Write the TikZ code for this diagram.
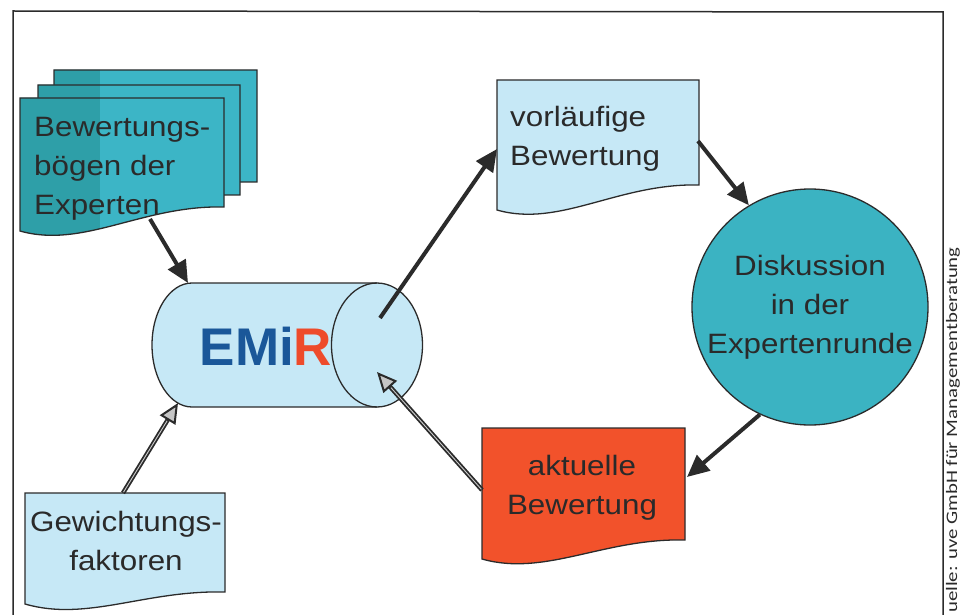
\documentclass[tikz,border=0pt]{standalone}
\usepackage{fontspec}
\usetikzlibrary{arrows.meta}
\newfontfamily\labfont[FakeStretch=1.12]{Liberation Sans}
\newfontfamily\emirfont{Liberation Sans}
\newfontfamily\srcfont[FakeStretch=1.3]{Carlito}
\definecolor{lblue}{HTML}{C6E8F6}
\definecolor{tealL}{HTML}{3CB5C6}
\definecolor{tealD}{HTML}{2E9FA8}
\definecolor{tealC}{HTML}{3BB3C2}
\definecolor{redor}{HTML}{F2522B}
\definecolor{linec}{HTML}{2B2B2B}
\definecolor{txtc}{HTML}{2A2A2A}
\definecolor{emblue}{HTML}{1A5799}
\definecolor{emred}{HTML}{EE4B2B}
\tikzset{
  docp/.style n args={5}{insert path={(#1,#2) -- (#3,#2) -- (#3,#5)
     .. controls ({#3-0.4*(#3-#1)},{#5-2}) and ({#1+0.31*(#3-#1)},{#4+18}) .. (#1,#4) -- cycle}},
  outline/.style={draw=linec, line width=1.3pt},
  lab/.style={font=\labfont\fontsize{28}{39}\selectfont, text=txtc, inner sep=0pt},
  solidarrow/.style={draw=linec, line width=4pt, -{Triangle[length=22pt,width=20pt]}},
  hollowarrow/.style={draw=linec, line width=4.5pt, -{Triangle[length=20pt,width=18pt,fill=gray!45,line width=2pt]}},
  hollowcore/.style={draw=gray!40, line width=0.9pt, shorten >=21pt, shorten <=1pt},
}
\begin{document}
\begin{tikzpicture}[x=1pt,y=-1pt]
\useasboundingbox (0,0) rectangle (961,615);
% frame
\draw[linec, line width=1.5pt] (13,620) -- (13,11) -- (943,12) -- (943,620);
% stacked documents
\foreach \a/\b/\c/\d/\e in {54/70/257/196/182, 38/85/240/209/195, 20/98/224/231/207} {
  \begin{scope}
    \path[clip, docp={\a}{\b}{\c}{\d}{\e}];
    \fill[tealL] (0,0) rectangle (300,260);
    \fill[tealD] (0,0) rectangle (100,260);
  \end{scope}
  \path[outline, docp={\a}{\b}{\c}{\d}{\e}];
}
\node[lab, anchor=north west, align=left] (stack) at (34,117) {Bewertungs-\\bögen der\\Experten};
% EMiR cylinder
\path[fill=lblue] (192,283) -- (377,283) -- (377,407) -- (192,407)
   arc[start angle=90, end angle=270, x radius=40, y radius=62];
\fill[lblue] (377,345) ellipse [x radius=45.5, y radius=62];
\draw[linec, line width=1.3pt] (377,283) -- (192,283)
   arc[start angle=270, end angle=90, x radius=40, y radius=62] -- (377,407);
\draw[linec, line width=1.3pt] (377,345) ellipse [x radius=45.5, y radius=62];
\node[inner sep=0pt, font=\emirfont\bfseries\fontsize{53}{53}\selectfont] (emir) at (266,346)
   {\textcolor{emblue}{EMi}\textcolor{emred}{R}};
% vorlaeufige Bewertung
\path[outline, fill=lblue, docp={497}{80}{699}{210}{185}];
\node[lab, anchor=north west, align=left] (vorl) at (510,106) {vorläufige\\Bewertung};
% Diskussion circle
\node[circle, outline, fill=tealC, minimum size=236pt, inner sep=0pt, lab, align=center] (disk) at (810,307)
   {Diskussion\\in der\\Expertenrunde};
% aktuelle Bewertung
\path[outline, fill=redor, docp={482}{428}{685}{559}{540}];
\node[lab, anchor=north, align=center] (akt) at (582,455) {aktuelle\\Bewertung};
% Gewichtungsfaktoren
\path[outline, fill=lblue, docp={25}{493}{225}{604}{592}];
\node[lab, anchor=north, align=center] (gew) at (126,511) {Gewichtungs-\\faktoren};
% source
\node[rotate=90, anchor=west, inner sep=0pt, text=txtc, font=\srcfont\fontsize{16}{16}\selectfont] (quelle) at (953,613)
   {uelle: uve GmbH für Managementberatung};
% connector end points
\coordinate (stackB) at (150,219);
\coordinate (cylTop) at (188,283);
\coordinate (gewT) at (123,493);
\coordinate (cylBot) at (178,403);
\coordinate (cylR1) at (380,318);
\coordinate (vorlL) at (497,149);
\coordinate (vorlR) at (698,141);
\coordinate (aktR) at (687,477);
\coordinate (aktL) at (482,490);
\coordinate (cylR2) at (377,372);
% connectors
\draw[solidarrow] (stackB) -- (cylTop);
\draw[solidarrow] (cylR1) -- (vorlL);
\draw[solidarrow] (vorlR) -- (disk.121);
\draw[solidarrow] (disk.245) -- (aktR);
\draw[hollowarrow] (gewT) -- (cylBot);
\draw[hollowcore] (gewT) -- (cylBot);
\draw[hollowarrow] (aktL) -- (cylR2);
\draw[hollowcore] (aktL) -- (cylR2);
\end{tikzpicture}
\end{document}
